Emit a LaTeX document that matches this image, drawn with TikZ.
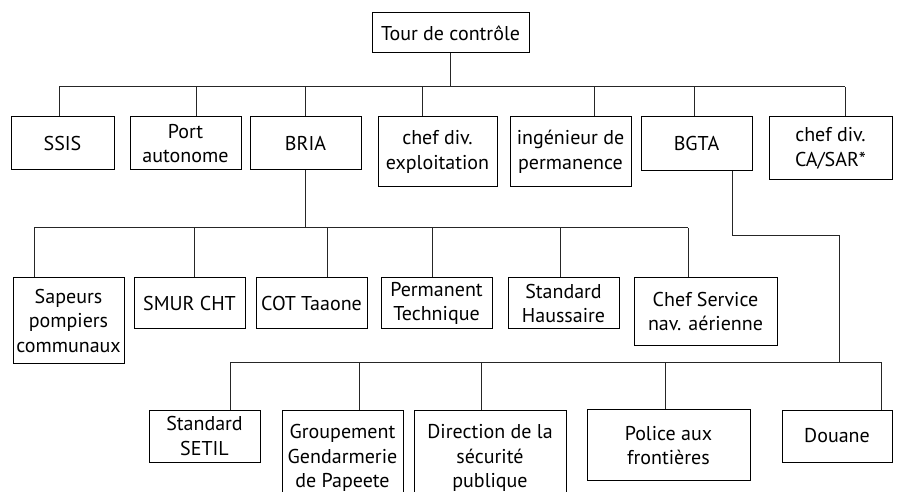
\documentclass[tikz,border=0pt]{standalone}
\usepackage{fontspec}
\setmainfont{PT Sans}
\begin{document}
\begin{tikzpicture}[x=1pt,y=-1pt,
  box/.style={draw=black,line width=1pt,inner sep=0pt,align=center,
    font=\fontsize{20}{24.5}\selectfont},
  conn/.style={draw=black!85,line width=1pt}]
\useasboundingbox (0,0) rectangle (898,492);
\clip (0,0) rectangle (898,492);
% top
\node[box,minimum width=157pt,minimum height=40pt] (top) at (450.5,33) {Tour de contrôle};
% level 1
\node[box,minimum width=103pt,minimum height=53pt] (ssis) at (62.5,143.5) {SSIS};
\node[box,minimum width=111pt,minimum height=53pt] (port) at (185.5,143.5) {Port\\autonome};
\node[box,minimum width=111pt,minimum height=53pt] (bria) at (305.5,143.5) {BRIA};
\node[box,minimum width=119pt,minimum height=70pt] (exploit) at (437.5,152) {chef div.\\exploitation};
\node[box,minimum width=121pt,minimum height=70pt] (ing) at (570.5,152) {ingénieur de\\permanence};
\node[box,minimum width=111pt,minimum height=54pt] (bgta) at (696.5,144) {BGTA};
\node[box,minimum width=123pt,minimum height=63pt] (casar) at (830.5,148.5) {chef div.\\CA/SAR*};
% level 2
\node[box,minimum width=111pt,minimum height=86pt] (sapeurs) at (68.5,320.5) {Sapeurs\\pompiers\\communaux};
\node[box,minimum width=111pt,minimum height=51pt] (smur) at (189.5,303.3) {SMUR CHT};
\node[box,minimum width=111pt,minimum height=51pt] (cot) at (311.5,303.3) {COT Taaone};
\node[box,minimum width=111pt,minimum height=51pt] (perm) at (436.5,303.3) {Permanent\\Technique};
\node[box,minimum width=111pt,minimum height=51pt] (haus) at (563.5,303.3) {Standard\\Haussaire};
\node[box,minimum width=143pt,minimum height=68pt] (chefsvc) at (705.5,311.7) {Chef Service\\nav. aérienne};
% level 3
\node[box,minimum width=111pt,minimum height=52pt] (setil) at (204.5,436) {Standard\\SETIL};
\node[box,minimum width=121pt,minimum height=96pt] (grp) at (342.5,458) {Groupement\\Gendarmerie\\de Papeete};
\node[box,minimum width=152pt,minimum height=96pt] (dir) at (490,458) {Direction de la\\sécurité\\publique};
\node[box,minimum width=163pt,minimum height=71pt] (police) at (668.5,445.3) {Police aux\\frontières};
\node[box,minimum width=110pt,minimum height=52pt] (douane) at (837,436) {Douane};
% connectors level 1
\draw[conn] (top.south) -- (top.south |- 0,87);
\draw[conn] (59,87) -- (845,87);
\foreach \x/\n in {59/ssis,196/port,305/bria,422/exploit,594/ing,694/bgta,845/casar}
  \draw[conn] (\x,87) -- (\x,0 |- \n.north);
% connectors level 2
\draw[conn] (305,0 |- bria.south) -- (305,228);
\draw[conn] (34,228) -- (688,228);
\foreach \x/\n in {34/sapeurs,194/smur,327/cot,432/perm,560/haus,688/chefsvc}
  \draw[conn] (\x,228) -- (\x,0 |- \n.north);
% connectors level 3
\draw[conn] (732,0 |- bgta.south) -- (732,236) -- (839,236) -- (839,362);
\draw[conn] (230,362) -- (881,362);
\foreach \x/\n in {230/setil,359/grp,481/dir,665/police,881/douane}
  \draw[conn] (\x,362) -- (\x,0 |- \n.north);
\end{tikzpicture}
\end{document}
